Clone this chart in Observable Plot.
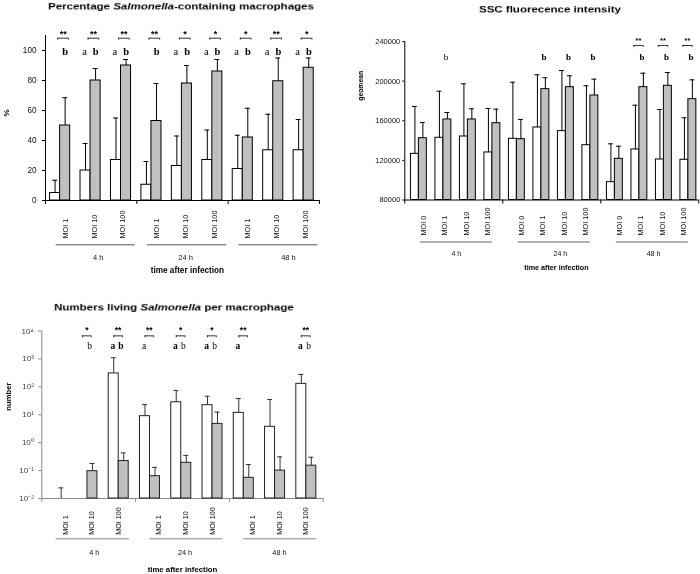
<!DOCTYPE html>
<html><head><meta charset="utf-8">
<script src="https://cdn.jsdelivr.net/npm/d3@7"></script>
<script src="https://cdn.jsdelivr.net/npm/@observablehq/plot@0.6"></script>
<style>
body{margin:0;background:#fff;}
#wrap{position:relative;width:700px;height:574px;overflow:hidden;font-family:"Liberation Sans",Arial,sans-serif;background:#fff;}
.title{position:absolute;font-weight:bold;white-space:nowrap;line-height:1;font-size:11.5px;color:#000;transform:translateX(-50%) scaleY(0.82);z-index:2;will-change:transform;}
.panel{position:absolute;will-change:transform;}
</style></head><body>
<div id="wrap">
<div class="title" style="left:181px;top:1px">Percentage <i>Salmonella</i>-containing macrophages</div>
<div class="title" style="left:550px;top:4px">SSC fluorecence intensity</div>
<div class="title" style="left:174px;top:302px">Numbers living <i>Salmonella</i> per macrophage</div>
<div class="panel" id="pA" style="left:0;top:0"></div>
<div class="panel" id="pB" style="left:350px;top:0"></div>
<div class="panel" id="pC" style="left:0;top:290px"></div>
</div>
<script>
const groups = ["4 h", "24 h", "48 h"];

// Panel A: Percentage Salmonella-containing macrophages
const pctMoi = ["MOI 1", "MOI 10", "MOI 100"];
const pctWhite = [5, 20, 27, 10.5, 23, 27, 21, 33.5, 33.5];
const pctWhiteSD = [8.5, 18, 28, 15.5, 20, 20, 22.5, 24, 20.5];
const pctGrey = [50, 80, 90, 53, 78, 86, 42, 79.5, 88.5];
const pctGreySD = [18.5, 8, 4, 25, 12, 8, 19.5, 15.5, 6.5];
const pctStars = ["**", "**", "**", "**", "*", "*", "*", "**", "*"];
const pctLetterA = ["", "a", "a", "", "a", "a", "a", "a", "a"];
const pctBoldA = [0, 0, 0, 0, 0, 0, 0, 0, 0];
const pctLetterB = ["b", "b", "b", "b", "b", "b", "b", "b", "b"];
const pctBoldB = [1, 1, 1, 1, 1, 1, 1, 1, 1];
const pctTicks = [0, 20, 40, 60, 80, 100];

// Panel B: SSC fluorecence intensity
const sscMoi = ["MOI 0", "MOI 1", "MOI 10", "MOI 100"];
const sscWhite = [126600, 142800, 144100, 128000, 141800, 153200, 149500, 135300, 98000, 131000, 120900, 120600];
const sscWhiteSD = [47800, 47000, 53200, 44400, 57100, 53200, 61200, 60000, 38700, 44700, 50500, 42400];
const sscGrey = [142400, 161300, 161300, 157500, 141400, 191900, 193900, 185500, 121600, 193900, 195300, 181800];
const sscGreySD = [15800, 7000, 10800, 14200, 19900, 11500, 11500, 16500, 12700, 14100, 13400, 19500];
const sscStars = ["", "", "", "", "", "", "", "", "", "**", "**", "**"];
const sscLetterA = ["", "", "", "", "", "", "", "", "", "", "", ""];
const sscBoldA = [0, 0, 0, 0, 0, 0, 0, 0, 0, 0, 0, 0];
const sscLetterB = ["", "b", "", "", "", "b", "b", "b", "", "b", "b", "b"];
const sscBoldB = [0, 0, 0, 0, 0, 1, 1, 1, 0, 1, 1, 1];
const sscTicks = [80000, 120000, 160000, 200000, 240000];

// Panel C: Numbers living Salmonella per macrophage
const numMoi = ["MOI 1", "MOI 10", "MOI 100"];
const numWhite = [null, null, 302, 8.9, 28, 22, 11.7, 3.7, 128];
const numWhiteSD = [null, null, 798, 14.1, 46, 24, 26.3, 31.3, 150];
const numGrey = [0.01, 0.095, 0.22, 0.063, 0.19, 4.7, 0.055, 0.1, 0.15];
const numGreySD = [0.014, 0.085, 0.21, 0.067, 0.16, 7.7, 0.11, 0.21, 0.15];
const numStars = ["", "*", "**", "**", "*", "*", "**", "", "**"];
const numLetterA = ["", "", "a", "a", "a", "a", "a", "", "a"];
const numBoldA = [0, 0, 1, 0, 1, 1, 1, 0, 1];
const numLetterB = ["", "b", "b", "", "b", "b", "", "", "b"];
const numBoldB = [0, 0, 1, 0, 0, 0, 0, 0, 0];
const numTicks = [0.01, 0.1, 1, 10, 100, 1000, 10000];

const SANS = "'Liberation Sans', Arial, sans-serif";
const SERIF = "'Liberation Serif', 'Times New Roman', serif";
const GREY = "#c0c0c0";

function sup(n) {
  const m = {"-": "\u207B", "0": "\u2070", "1": "\u00B9", "2": "\u00B2", "3": "\u00B3", "4": "\u2074"};
  return String(n).split("").map(c => m[c]).join("");
}

function panel(o) {
  const L = o.L;
  const n = o.white.length, per = o.moi.length;
  const rows = d3.range(n).map(i => ({
    i, w: o.white[i], wsd: o.whiteSD[i], g: o.grey[i], gsd: o.greySD[i],
    star: o.stars[i], a: o.letA[i], b: o.letB[i], ab: o.boldA[i], bb: o.boldB[i],
    moi: o.moi[i % per], grp: Math.floor(i / per), k: i % per
  }));
  const base = o.yDomain[0], top = o.yDomain[1];
  const wc = (L.b0 + L.b1) / 2, gc = (L.b1 + L.b2) / 2;
  const W = rows.filter(d => d.w != null), G = rows.filter(d => d.g != null);
  const S = rows.filter(d => d.star);
  const gIdx = d3.range(groups.length);
  const gCenter = g => g * per + per / 2;
  const letter = (key, bold, pos) => Plot.text(rows.filter(d => d[key] && (bold ? d[key === "a" ? "ab" : "bb"] : !d[key === "a" ? "ab" : "bb"])), {
    x: d => d.i + pos, y: L.letY, text: key, fontFamily: SERIF, fontWeight: bold ? "bold" : "normal",
    fontSize: L.letFont, fill: "#000"
  });
  return Plot.plot({
    width: o.width, height: o.height,
    marginLeft: o.ml, marginRight: o.mr, marginTop: o.mt, marginBottom: o.mb,
    x: {domain: [0, n], axis: null},
    y: {type: o.yType, domain: o.yDomain, axis: null},
    style: {fontFamily: SANS, fontSize: L.tickFont + "px", color: L.tickText, background: "transparent", overflow: "visible"},
    marks: [
      Plot.axisY({ticks: o.yTicks, tickFormat: o.tickFormat, tickSize: L.tickSize, tickPadding: L.tickPad, label: null, stroke: L.axis}),
      Plot.axisX({ticks: d3.range(0, n + 1, per), tickSize: 4, tickFormat: () => "", label: null, stroke: L.axis}),
      Plot.ruleY([base], {x1: 0, x2: n, stroke: L.axis}),
      Plot.ruleX([0], {y1: base, y2: top, stroke: L.axis}),
      // bars
      Plot.rect(W, {x1: d => d.i + L.b0, x2: d => d.i + L.b1, y1: base, y2: "w", fill: "white", stroke: L.bar}),
      Plot.rect(G, {x1: d => d.i + L.b1, x2: d => d.i + L.b2, y1: base, y2: "g", fill: GREY, stroke: L.bar}),
      // error bars
      Plot.ruleX(W, {x: d => d.i + wc, y1: "w", y2: d => d.w + d.wsd, stroke: L.err}),
      Plot.ruleY(W, {x1: d => d.i + wc - L.cap, x2: d => d.i + wc + L.cap, y: d => d.w + d.wsd, stroke: L.err}),
      Plot.ruleX(G, {x: d => d.i + gc, y1: "g", y2: d => d.g + d.gsd, stroke: L.err}),
      Plot.ruleY(G, {x1: d => d.i + gc - L.cap, x2: d => d.i + gc + L.cap, y: d => d.g + d.gsd, stroke: L.err}),
      // significance
      Plot.text(S, {x: d => d.i + L.sx, y: L.starY, text: "star", fontSize: L.starFont, fontWeight: "bold", fill: "#000"}),
      Plot.ruleY(S, {x1: d => d.i + L.br0, x2: d => d.i + L.br1, y: L.brY, stroke: "#333"}),
      Plot.ruleX(S, {x: d => d.i + L.br0, y1: L.brY, y2: L.brTick, stroke: "#333"}),
      Plot.ruleX(S, {x: d => d.i + L.br1, y1: L.brY, y2: L.brTick, stroke: "#333"}),
      letter("a", true, L.ax), letter("a", false, L.ax),
      letter("b", true, L.bx), letter("b", false, L.bx),
      // category labels
      Plot.text(rows, {x: d => gCenter(d.grp) + L.lOff + (d.k - (per - 1) / 2) * L.lSp, y: base, dy: L.moiDy,
        text: "moi", rotate: -90, textAnchor: "start", fontSize: L.moiFont, fill: "#111"}),
      Plot.ruleY(gIdx, {y: base, dy: L.gDy, x1: g => gCenter(g) + L.gOff - L.gHalf, x2: g => gCenter(g) + L.gOff + L.gHalf, stroke: L.gline}),
      Plot.text(gIdx, {x: g => gCenter(g) + L.gOff + L.gNudge[g], y: base, dy: L.glDy, text: g => groups[g], fontSize: L.glFont, fill: "#111"}),
      Plot.text(["time after infection"], {x: n / 2 + L.tOff, y: base, dy: L.tDy, fontWeight: "bold", fontSize: L.tFont, fill: "#000"}),
      Plot.text([o.yLabel], {frameAnchor: "left", dx: L.ylDx, dy: L.ylDy, rotate: -90, fontWeight: "bold", fontSize: L.ylFont, fill: "#000"})
    ]
  });
}

document.getElementById("pA").append(panel({
  width: 350, height: 280, ml: 45, mr: 31, mt: 35, mb: 80,
  white: pctWhite, whiteSD: pctWhiteSD, grey: pctGrey, greySD: pctGreySD,
  stars: pctStars, letA: pctLetterA, boldA: pctBoldA, letB: pctLetterB, boldB: pctBoldB,
  moi: pctMoi, yType: "linear", yDomain: [0, 110], yTicks: pctTicks, tickFormat: d => String(d), yLabel: "%",
  L: {b0: 0.15, b1: 0.48, b2: 0.81, cap: 0.08, sx: 0.58, starY: 111.2, br0: 0.40, br1: 0.75, brY: 108.2, brTick: 106.9,
      ax: 0.28, bx: 0.65, letY: 99.5, starFont: 9, letFont: 10.5,
      moiDy: 38, lOff: 0.1, lSp: 0.95, moiFont: 7.3, gDy: 44.3, gOff: 0.15, gHalf: 1.3, glDy: 57, gNudge: [0.08, -0.05, 0.33], glFont: 7.5,
      tDy: 70, tOff: 0.16, tFont: 8.2, ylDx: -39, ylDy: -1.5, ylFont: 8,
      tickFont: 8.2, tickSize: 3, tickPad: 6, tickText: "#111", axis: "#000", bar: "#000", err: "#000", gline: "#555"}
}));

document.getElementById("pB").append(panel({
  width: 350, height: 280, ml: 54.3, mr: 1.7, mt: 41, mb: 80.5,
  white: sscWhite, whiteSD: sscWhiteSD, grey: sscGrey, greySD: sscGreySD,
  stars: sscStars, letA: sscLetterA, boldA: sscBoldA, letB: sscLetterB, boldB: sscBoldB,
  moi: sscMoi, yType: "linear", yDomain: [80000, 240000], yTicks: sscTicks, tickFormat: d => String(d), yLabel: "geomean",
  L: {b0: 0.25, b1: 0.575, b2: 0.9, cap: 0.1, sx: 0.54, starY: 241000, br0: 0.35, br1: 0.73, brY: 236000, brTick: 234000,
      ax: 0.4, bx: 0.68, letY: 224500, starFont: 7.5, letFont: 9,
      moiDy: 35.5, lOff: 0.08, lSp: 0.88, moiFont: 7.3, gDy: 42, gOff: 0.1, gHalf: 1.47, glDy: 53.5, gNudge: [0, 0.25, 0.05], glFont: 7,
      tDy: 68, tOff: 0.19, tFont: 7.2, ylDx: -44, ylDy: -20, ylFont: 6.8,
      tickFont: 7.5, tickSize: 2, tickPad: 2.5, tickText: "#111", axis: "#000", bar: "#000", err: "#000", gline: "#666"}
}));

document.getElementById("pC").append(panel({
  width: 350, height: 284, ml: 41.3, mr: 27.3, mt: 40.5, mb: 76,
  white: numWhite, whiteSD: numWhiteSD, grey: numGrey, greySD: numGreySD,
  stars: numStars, letA: numLetterA, boldA: numBoldA, letB: numLetterB, boldB: numBoldB,
  moi: numMoi, yType: "log", yDomain: [0.01, 10000], yTicks: numTicks,
  tickFormat: d => "10" + sup(Math.round(Math.log10(d))), yLabel: "number",
  L: {b0: 0.14, b1: 0.46, b2: 0.78, cap: 0.08, sx: 0.44, starY: 11000, br0: 0.3, br1: 0.58, brY: 6700, brTick: 5700,
      ax: 0.27, bx: 0.53, letY: 2950, starFont: 8.5, letFont: 9.5,
      moiDy: 36.3, lOff: 0.1, lSp: 0.85, moiFont: 7.2, gDy: 40.3, gOff: 0.13, gHalf: 1.17, glDy: 53.7, gNudge: [0.05, -0.05, -0.03], glFont: 7.3,
      tDy: 71.3, tOff: 0, tFont: 7.8, ylDx: -33, ylDy: -4, ylFont: 7.7,
      tickFont: 8, tickSize: 3, tickPad: 5, tickText: "#444", axis: "#888", bar: "#222", err: "#333", gline: "#888"}
}));
</script>
</body></html>
